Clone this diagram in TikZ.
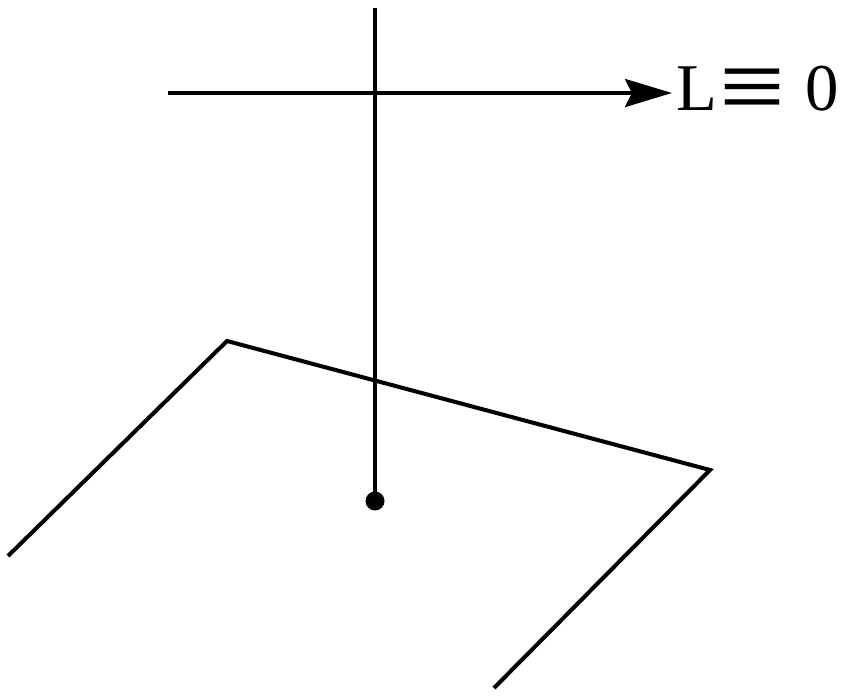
\documentclass[tikz,border=0pt]{standalone}
\usepackage{fontspec}
\setmainfont{Liberation Serif}
\usetikzlibrary{arrows.meta}
\begin{document}
\begin{tikzpicture}[x=0.02cm,y=-0.02cm,
  ln/.style={line width=2.3pt},
  lbl/.style={font=\fontsize{38}{40}\selectfont, inner sep=0pt}]
\useasboundingbox (0,0) rectangle (849,700);
\coordinate (top) at (375,8);
\coordinate (foot) at (375,501);
\coordinate (astart) at (168,93);
\coordinate (atip) at (672,93);
\coordinate (p1) at (8,556);
\coordinate (p2) at (227,341);
\coordinate (p3) at (710,470);
\coordinate (p4) at (494,688);
\draw[ln] (p1) -- (p2) -- (p3) -- (p4);
\draw[ln] (top) -- (foot);
\fill (foot) circle (9.5);
\draw[ln, -{Stealth[length=47*0.02cm, width=28*0.02cm, inset=7*0.02cm]}] (astart) -- (atip);
\node[lbl, anchor=base west] (lL) at (676,110) {L};
\node[lbl] (leq) at (752,96) {\scalebox{1.75}[1.6]{≡}};
\node[lbl, anchor=base west] (lzero) at (805,110) {0};
\end{tikzpicture}
\end{document}
